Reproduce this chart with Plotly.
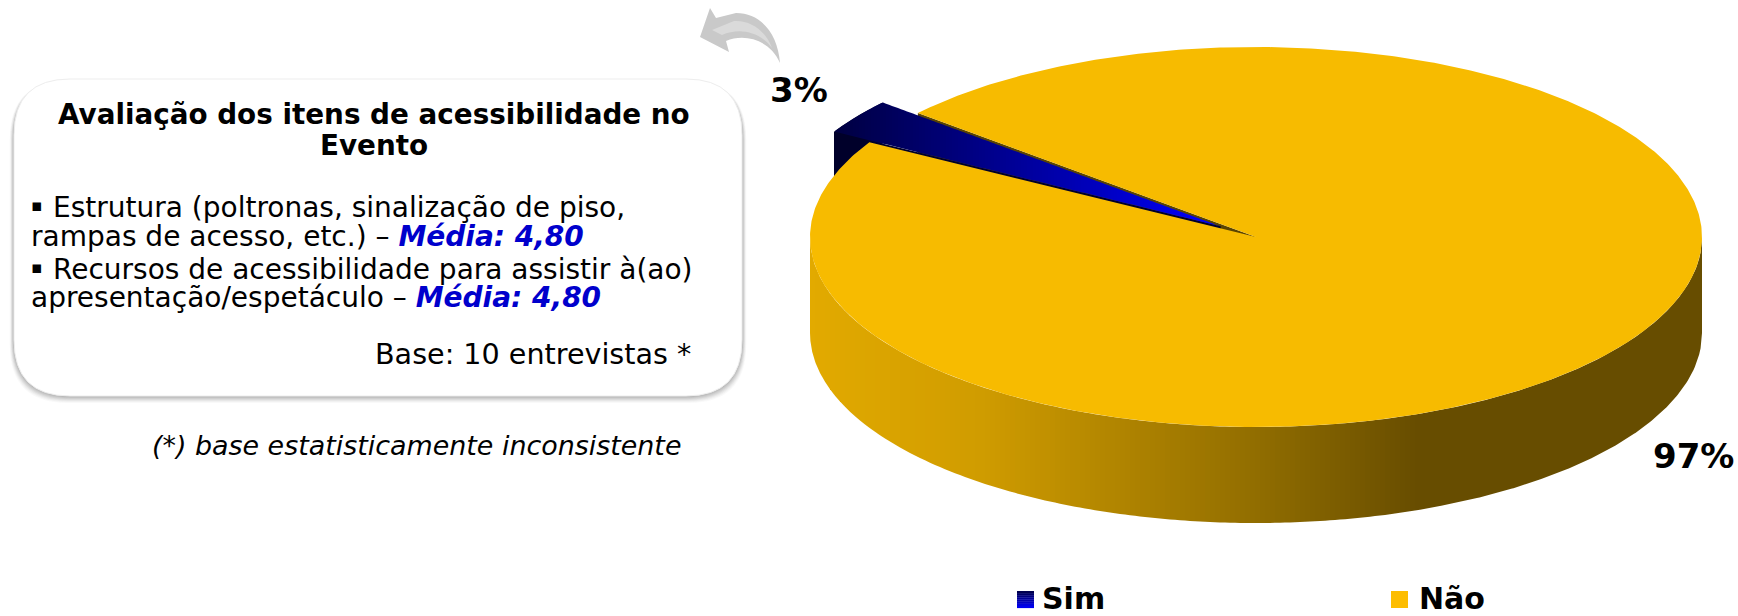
import numpy as np
import plotly.graph_objects as go

# ---- data ----
categories = ["Sim", "Não"]
values = [3, 97]
labels = ["3%", "97%"]

title_lines = ["Avaliação dos itens de acessibilidade no", "Evento"]
BLUE = "#0000cc"
BULLET = "▪"
body_lines = [
    "Estrutura (poltronas, sinalização de piso,",
    f'rampas de acesso, etc.) – <span style="color:{BLUE}"><b><i>Média: 4,80</i></b></span>',
    "Recursos de acessibilidade para assistir à(ao)",
    f'apresentação/espetáculo – <span style="color:{BLUE}"><b><i>Média: 4,80</i></b></span>',
]
base_text = "Base: 10 entrevistas *"
note_text = "(*) base estatisticamente inconsistente"

# ---- pie geometry (pixel-like axis units) ----
CX, CY, RX, RY, DEPTH = 1256.0, 237.0, 446.0, 190.0, 96.0
START_DEG = 139.3
EXPLODE = 0.097
FONT = "DejaVu Sans"


def pt(theta_deg, r=1.0, off=(0.0, 0.0)):
    t = np.radians(theta_deg)
    return CX + RX * (off[0] + r * np.cos(t)), CY - RY * (off[1] + r * np.sin(t))


def lerp_hex(stops, x):
    xs = [s[0] for s in stops]
    rgb = [np.interp(x, xs, [int(s[1][i:i + 2], 16) for s in stops]) for i in (1, 3, 5)]
    return "rgb(%d,%d,%d)" % tuple(int(round(c)) for c in rgb)


fig = go.Figure()


def poly(x, y, color):
    fig.add_trace(go.Scatter(
        x=list(x), y=list(y), mode="lines", fill="toself", fillcolor=color,
        line=dict(color=color, width=0), hoverinfo="skip", showlegend=False))


total = sum(values)
sweeps = [360.0 * v / total for v in values]
sim_a0, sim_a1 = START_DEG, START_DEG + sweeps[0]
nao_a0, nao_a1 = sim_a1, sim_a1 + sweeps[1]
mid = np.radians((sim_a0 + sim_a1) / 2)
off = (EXPLODE * np.cos(mid), EXPLODE * np.sin(mid))

# yellow wedge inner wall, seen through the gap
ex, ey = pt(sim_a0)
poly([CX, ex, ex, CX], [CY, ey, ey + DEPTH, CY + DEPTH], "#5a4400")

# blue outer wall
th = np.linspace(sim_a0, sim_a1, 30)
wx, wy = pt(th, off=off)
poly(list(wx) + list(wx[::-1]), list(wy) + list(wy[::-1] + DEPTH), "#00002a")

# blue top face geometry
ax_, ay_ = pt(0, r=0, off=off)
arc_x, arc_y = pt(np.linspace(sim_a1, sim_a0, 40), off=off)

# blue cut wall along the lower radial edge
poly([arc_x[0], ax_, ax_, arc_x[0]], [arc_y[0], ay_, ay_ + DEPTH, arc_y[0] + DEPTH], "#00002a")

# blue top face with horizontal gradient (whole-pixel strips)
lower_x = np.array([arc_x[0], ax_])
lower_y = np.array([arc_y[0], ay_])
upper_x = np.concatenate([arc_x, [ax_]])
upper_y = np.concatenate([arc_y, [ay_]])
blue_stops = [(arc_x[0], "#000040"), (950, "#000078"), (1100, "#0000c0"), (ax_, "#0000ff")]
edges = np.concatenate([[arc_x[0]], np.arange(np.ceil(arc_x[0]), ax_, 3.0), [ax_]])
for a, b in zip(edges[:-1], edges[1:]):
    xs = np.concatenate([[a], np.arange(np.ceil(a + 1e-6), b), [b]])
    up = np.interp(xs, upper_x, upper_y)
    lo = np.interp(xs, lower_x, lower_y)
    poly(list(xs) + list(xs[::-1]), list(up) + list(lo[::-1]), lerp_hex(blue_stops, (a + b) / 2))

# yellow outer wall with horizontal gradient (whole-pixel strips)
wall_stops = [(CX - RX, "#e2aa00"), (980, "#d09c00"), (1240, "#957000"), (1420, "#674d00"), (CX + RX, "#664c00")]
edges = np.concatenate([np.arange(CX - RX, 1425, 5.0), [CX + RX]])
for a, b in zip(edges[:-1], edges[1:]):
    xs = np.arange(a, b + 0.5, 1.0)
    if xs[-1] != b:
        xs = np.append(xs, b)
    # finer sampling close to the ellipse tips
    if a < CX - RX + 10 or b > CX + RX - 10:
        xs = np.linspace(a, b, 200)
    top = CY + RY * np.sqrt(np.clip(1 - ((xs - CX) / RX) ** 2, 0, 1))
    poly(list(xs) + list(xs[::-1]), list(top) + list(top[::-1] + DEPTH),
         lerp_hex(wall_stops, (a + min(b, 1425)) / 2))

# yellow top face
th = np.linspace(nao_a0, nao_a1, 720)
tx, ty = pt(th)
poly([CX] + list(tx) + [CX], [CY] + list(ty) + [CY], "#f7bb00")

# ---- decoration shapes ----
shapes = []


def rrect(x0, y0, x1, y1, r):
    return (f"M{x0+r},{y0} L{x1-r},{y0} Q{x1},{y0} {x1},{y0+r} L{x1},{y1-r} Q{x1},{y1} {x1-r},{y1} "
            f"L{x0+r},{y1} Q{x0},{y1} {x0},{y1-r} L{x0},{y0+r} Q{x0},{y0} {x0+r},{y0} Z")


for i, (grow, op) in enumerate([(7, 0.04), (6, 0.05), (5, 0.06), (4, 0.08), (3, 0.09), (2, 0.10), (1, 0.12)]):
    shapes.append(dict(type="path", path=rrect(14 - grow * .6, 80 + 1, 742 + grow * .6, 396 + grow, 58),
                       fillcolor=f"rgba(90,90,90,{op})", line_width=0, layer="below"))
shapes.append(dict(type="path", path=rrect(14, 79, 742, 396, 56), fillcolor="#ffffff",
                   line=dict(color="#ededed", width=1), layer="below"))

# curved arrow
shapes.append(dict(type="path",
                   path="M780,63 C778,35 762,13 736,13 L716,18 L710,8 L700,37 L729,52 L726,41 C745,33 770,40 780,63 Z",
                   fillcolor="#c9c9c9", line_width=0, layer="below"))
shapes.append(dict(type="path",
                   path="M772,48 C766,32 752,20 734,21 L712,30 L722,35 C740,27 760,32 772,48 Z",
                   fillcolor="#dadada", line_width=0, layer="below"))

# legend swatches
for k in range(8):
    c = lerp_hex([(0, "#000050"), (7, "#0000f0")], k)
    shapes.append(dict(type="rect", x0=1017, x1=1034, y0=591 + k * 2.1, y1=591 + (k + 1) * 2.1 + .3,
                       fillcolor=c, line_width=0))
shapes.append(dict(type="rect", x0=1391, x1=1408, y0=591, y1=608, fillcolor="#fdbd00", line_width=0))

# ---- texts ----
ann = []


def text(x, y, s, size, anchor="center", color="#000000"):
    ann.append(dict(x=x, y=y, text=s, showarrow=False, xanchor=anchor, yanchor="middle", borderpad=0,
                    font=dict(family=FONT, size=size, color=color), xref="x", yref="y"))


text(374, 114, f"<b>{title_lines[0]}</b>", 27.8)
text(374, 145, f"<b>{title_lines[1]}</b>", 27.8)
text(52, 207, body_lines[0], 28, "left")
text(30, 236, body_lines[1], 28, "left")
text(52, 269, body_lines[2], 28, "left")
text(30, 297, body_lines[3], 28, "left")
text(30, 205, BULLET, 17, "left")
text(30, 267, BULLET, 17, "left")
text(692, 354, base_text, 28.6, "right")
text(682, 445, f"<i>{note_text}</i>", 26.9, "right")
text(799, 90, f"<b>{labels[0]}</b>", 34)
text(1693, 456, f"<b>{labels[1]}</b>", 34)
text(1041, 598, f"<b>{categories[0]}</b>", 30, "left")
text(1418, 598, f"<b>{categories[1]}</b>", 30, "left")

fig.update_layout(
    width=1738, height=616, margin=dict(l=0, r=0, t=0, b=0),
    paper_bgcolor="#ffffff", plot_bgcolor="rgba(0,0,0,0)", showlegend=False,
    xaxis=dict(range=[0, 1738], visible=False, fixedrange=True),
    yaxis=dict(range=[616, 0], visible=False, fixedrange=True),
    shapes=shapes, annotations=ann,
)
fig.write_html("out.html", config={"displayModeBar": False},
               post_script="document.body.style.margin='0';")
